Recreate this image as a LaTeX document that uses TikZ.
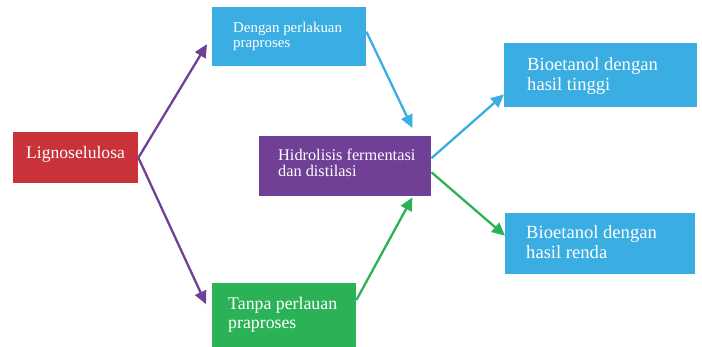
\documentclass[tikz,border=0pt]{standalone}
\usepackage{fontspec}
\setmainfont{Liberation Serif}
\usetikzlibrary{arrows.meta,calc}
\definecolor{cred}{RGB}{200,50,56}
\definecolor{cblue}{RGB}{58,173,226}
\definecolor{cpurple}{RGB}{111,64,150}
\definecolor{cgreen}{RGB}{44,178,86}
\begin{document}
\begin{tikzpicture}[x=1pt,y=-1pt,
  boxst/.style={rectangle,anchor=north west,inner sep=0pt},
  txt/.style={anchor=base west,inner sep=0pt,text=white},
  arr/.style={line width=2.3pt,-{Triangle[length=13pt,width=12pt]}}]
\useasboundingbox (0,0) rectangle (702,347);
\clip (0,0) rectangle (702,347);
% boxes
\node[boxst,fill=cred,minimum width=125pt,minimum height=51pt] (ligno) at (13,132) {};
\node[boxst,fill=cblue,minimum width=154pt,minimum height=59pt] (dengan) at (212,7) {};
\node[boxst,fill=cpurple,minimum width=172pt,minimum height=60pt] (hidro) at (259,136) {};
\node[boxst,fill=cgreen,minimum width=144pt,minimum height=66pt] (tanpa) at (212,283) {};
\node[boxst,fill=cblue,minimum width=193pt,minimum height=64pt] (tinggi) at (504,43) {};
\node[boxst,fill=cblue,minimum width=190pt,minimum height=61pt] (renda) at (505,213) {};
% texts
\node[txt,font=\fontsize{17.6}{20}\selectfont] (t1) at (26,159) {Lignoselulosa};
\node[txt,font=\fontsize{14.9}{15}\selectfont] (t2) at (233,33) {Dengan perlakuan};
\node[txt,font=\fontsize{14.9}{15}\selectfont] (t3) at (233,47.7) {praproses};
\node[txt,font=\fontsize{16.3}{17}\selectfont] (t4) at (278,161) {Hidrolisis fermentasi};
\node[txt,font=\fontsize{16.3}{17}\selectfont] (t5) at (278,177) {dan distilasi};
\node[txt,font=\fontsize{17.8}{19}\selectfont] (t6) at (228,310) {Tanpa perlauan};
\node[txt,font=\fontsize{17.8}{19}\selectfont] (t7) at (228,329) {praproses};
\node[txt,font=\fontsize{18.6}{20}\selectfont] (t8) at (527,71) {Bioetanol dengan};
\node[txt,font=\fontsize{18.6}{20}\selectfont] (t9) at (527,91) {hasil tinggi};
\node[txt,font=\fontsize{18.6}{20}\selectfont] (t10) at (526,239) {Bioetanol dengan};
\node[txt,font=\fontsize{18.6}{20}\selectfont] (t11) at (526,259) {hasil renda};
% arrows
\draw[arr,cpurple] (ligno.east) -- ($(dengan.west)+(-5,7.5)$);
\draw[arr,cpurple] (ligno.east) -- ($(tanpa.west)+(-6,-12)$);
\draw[arr,cblue] ($(dengan.east)+(0,-5)$) -- ($(hidro.north east)+(-19,-8)$);
\draw[arr,cgreen] ($(tanpa.north east)+(0,17)$) -- ($(hidro.south east)+(-19,1)$);
\draw[arr,cblue] ($(hidro.east)+(0,-8)$) -- ($(tinggi.south west)+(0,-13)$);
\draw[arr,cgreen] ($(hidro.east)+(0,6)$) -- ($(renda.west)+(0,-8)$);
\end{tikzpicture}
\end{document}
